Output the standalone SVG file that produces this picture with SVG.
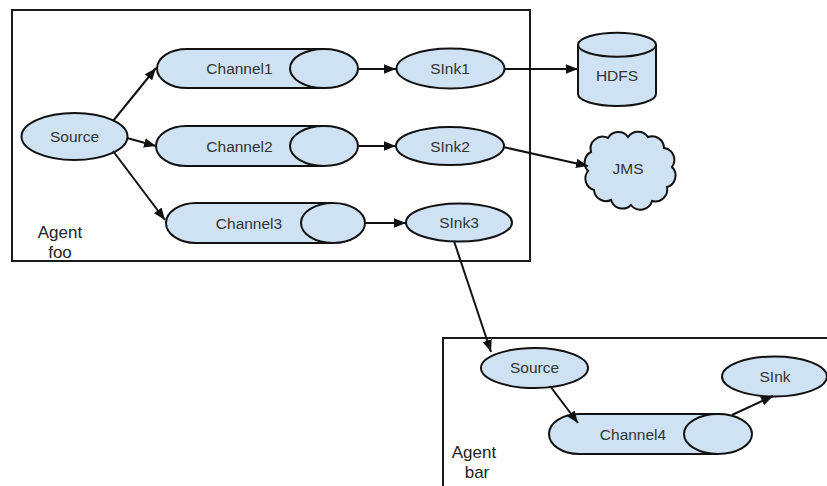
<svg xmlns="http://www.w3.org/2000/svg" width="827" height="486" viewBox="0 0 827 486">
<defs>
<style>
.box{fill:none;stroke:#1a1a1a;stroke-width:2}
.shp{fill:#cfe2f3;stroke:#111;stroke-width:2}
.t{font-family:"Liberation Sans",Arial,sans-serif;font-size:15.5px;fill:#333;text-anchor:middle}
.lbl{font-family:"Liberation Sans",Arial,sans-serif;font-size:17px;fill:#222;text-anchor:middle}
.e{fill:none;stroke:#111;stroke-width:2;marker-end:url(#arr)}
</style>
<marker id="arr" viewBox="0 0 10 8" refX="10" refY="4" markerWidth="12" markerHeight="9.6" markerUnits="userSpaceOnUse" orient="auto">
<path d="M0,0 L10,4 L0,8 z" fill="#111"/>
</marker>
</defs>
<rect width="827" height="486" fill="#fff"/>

<g id="agent-foo">
<rect class="box" x="12" y="10" width="518" height="251"/>
<text class="lbl" x="60" y="238">Agent</text>
<text class="lbl" x="60" y="258">foo</text>
</g>
<g id="agent-bar">
<rect class="box" x="443" y="338" width="420" height="200"/>
<text class="lbl" x="474" y="457.5">Agent</text>
<text class="lbl" x="477" y="478">bar</text>
</g>

<g id="source-foo">
<ellipse class="shp" cx="74.5" cy="136.5" rx="53" ry="23.5"/>
<text class="t" x="74.5" y="142">Source</text>
</g>

<g id="channel1">
<path class="shp" d="M324,49 H187 A30 19.5 0 0 0 187,88 H324"/>
<ellipse class="shp" cx="324" cy="68.5" rx="34" ry="19.5"/>
<text class="t" x="239.5" y="74">Channel1</text>
</g>
<g id="channel2">
<path class="shp" d="M324,126 H186 A30 20 0 0 0 186,166 H324"/>
<ellipse class="shp" cx="324" cy="146" rx="34" ry="20"/>
<text class="t" x="239.5" y="151.5">Channel2</text>
</g>
<g id="channel3">
<path class="shp" d="M333,203 H196 A30 20 0 0 0 196,243 H333"/>
<ellipse class="shp" cx="333" cy="223" rx="32" ry="20"/>
<text class="t" x="249" y="228.5">Channel3</text>
</g>

<g id="sink1">
<ellipse class="shp" cx="450.5" cy="68.5" rx="54" ry="20"/>
<text class="t" x="450" y="74">SInk1</text>
</g>
<g id="sink2">
<ellipse class="shp" cx="450" cy="146" rx="54" ry="19"/>
<text class="t" x="450" y="151.5">SInk2</text>
</g>
<g id="sink3">
<ellipse class="shp" cx="459" cy="222.5" rx="53" ry="19"/>
<text class="t" x="459" y="228">SInk3</text>
</g>

<g id="hdfs">
<path class="shp" d="M578,44.7 V94 A39 12 0 0 0 656,94 V44.7"/>
<ellipse class="shp" cx="617" cy="44.7" rx="39" ry="12"/>
<text class="t" x="617" y="81">HDFS</text>
</g>

<g id="jms">
<path class="shp" d="M591,152 A12 12 0 0 1 608,138 A12 12 0 0 1 628,137 A12 12 0 0 1 648,137 A12 12 0 0 1 664,148 A12 12 0 0 1 672,167 A12 12 0 0 1 667,187 A12 12 0 0 1 652,201 A12 12 0 0 1 631,205 A12 12 0 0 1 611,200 A12 12 0 0 1 594,190 A12 12 0 0 1 588,171 A12 12 0 0 1 591,152 Z"/>
<text class="t" x="628" y="173.5">JMS</text>
</g>

<g id="source-bar">
<ellipse class="shp" cx="534.5" cy="368" rx="53.5" ry="20"/>
<text class="t" x="534.5" y="373">Source</text>
</g>
<g id="channel4">
<path class="shp" d="M718,414 H579 A30 20 0 0 0 579,454 H718"/>
<ellipse class="shp" cx="718" cy="434" rx="34" ry="20"/>
<text class="t" x="633" y="439.5">Channel4</text>
</g>
<g id="sink-bar">
<ellipse class="shp" cx="774.5" cy="376.5" rx="52.5" ry="20"/>
<text class="t" x="775" y="382">SInk</text>
</g>

<g id="connectors">
<line class="e" x1="113" y1="121" x2="156" y2="68"/>
<line class="e" x1="127" y1="138" x2="156" y2="146"/>
<line class="e" x1="113" y1="151" x2="165" y2="220"/>
<line class="e" x1="358" y1="69" x2="396" y2="69"/>
<line class="e" x1="358" y1="146" x2="396" y2="146"/>
<line class="e" x1="365" y1="223" x2="406" y2="223"/>
<line class="e" x1="504" y1="69" x2="578" y2="69"/>
<line class="e" x1="503" y1="147" x2="588" y2="166"/>
<line class="e" x1="454" y1="241" x2="491" y2="352"/>
<line class="e" x1="550" y1="386" x2="578" y2="423"/>
<line class="e" x1="732" y1="415" x2="773" y2="396"/>
</g>
</svg>
